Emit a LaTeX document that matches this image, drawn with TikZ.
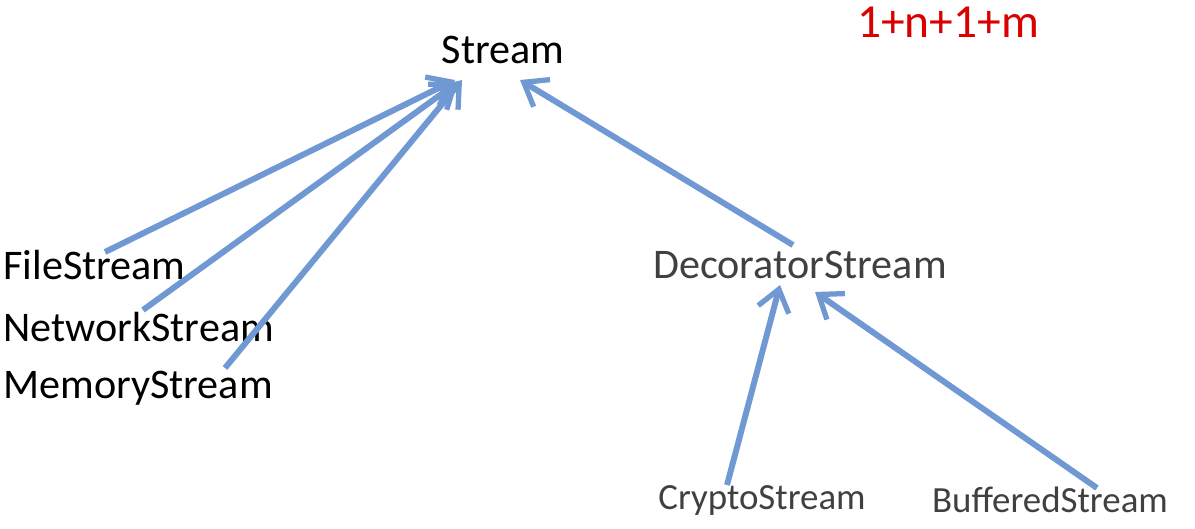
\documentclass[tikz,border=0pt]{standalone}
\usepackage{fontspec}
\setmainfont{Carlito}
\usetikzlibrary{arrows.meta}
\definecolor{arrowblue}{RGB}{112,153,212}
\begin{document}
\begin{tikzpicture}[x=0.02cm,y=-0.02cm,
            cls/.style={inner sep=0pt, anchor=west, font=\fontsize{24}{28}\selectfont},
            sub/.style={inner sep=0pt, font=\fontsize{21}{25}\selectfont, text=black!75},
            inherit/.style={draw=arrowblue, line width=3.4pt, -{Straight Barb[length=12pt,width=18pt,line width=3pt]}}
        ]
        \useasboundingbox (0,0) rectangle (1195,528);

        % class names
        \node[cls, anchor=center] (stream) at (503,50) {Stream};
        \node[cls] (file) at (3,265) {FileStream};
        \node[cls] (network) at (3,327) {NetworkStream};
        \node[cls] (memory) at (3,388) {MemoryStream};
        \node[cls, anchor=center, text=black!75] (decorator) at (800,265) {DecoratorStream};
        \node[sub] (crypto) at (762,500) {CryptoStream};
        \node[sub] (buffered) at (1050,500) {BufferedStream};
        \node[inner sep=0pt, text=red!85!black, font=\fontsize{27}{32}\selectfont] (count) at (948,22) {1+n+1+m};

        % arrow end points
        \coordinate (s1) at (455,80);
        \coordinate (s2) at (458,82);
        \coordinate (s3) at (462,80);
        \coordinate (s4) at (520,80);
        \coordinate (f) at (105,252);
        \coordinate (n) at (143,310);
        \coordinate (m) at (225,368);
        \coordinate (d) at (793,245);
        \coordinate (d1) at (780,285);
        \coordinate (d2) at (815,292);
        \coordinate (c) at (727,485);
        \coordinate (b) at (1097,488);

        \foreach \from/\to in {f/s1, n/s2, m/s3, d/s4, c/d1, b/d2} {
                \draw[inherit] (\from) -- (\to);
            }
    \end{tikzpicture}
\end{document}
